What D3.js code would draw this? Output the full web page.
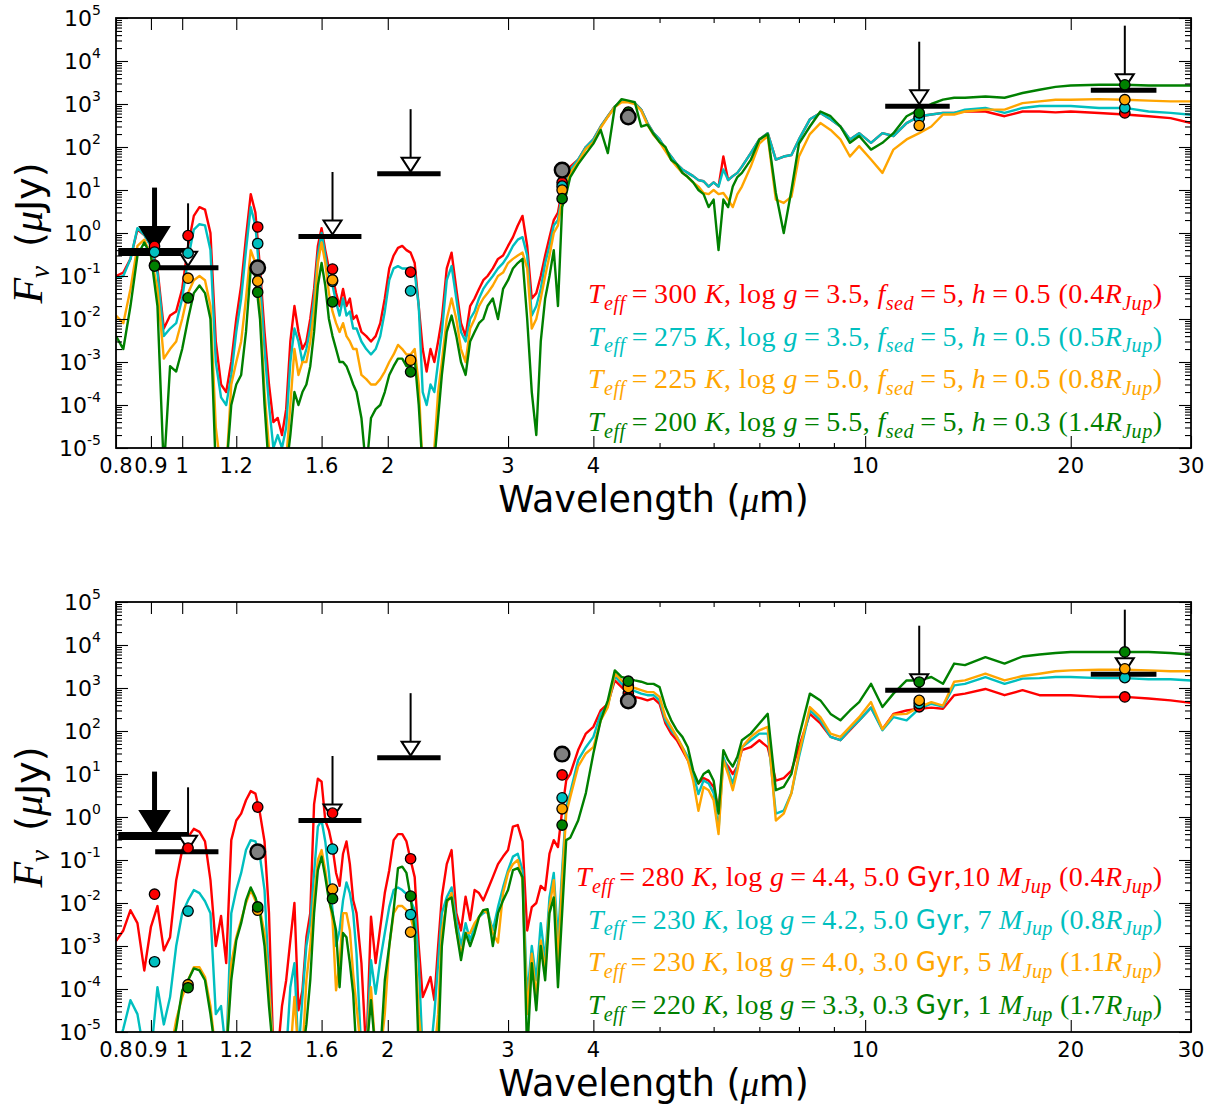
<!DOCTYPE html>
<html>
<head>
<meta charset="utf-8">
<script src="https://cdn.jsdelivr.net/npm/d3@7"></script>
<style>
  body { margin: 0; background: #fff; }
</style>
</head>
<body>
<svg id="fig" width="1223" height="1109"></svg>
<script>
// ------------------------------------------------------------------
// Data (flux in microJy, wavelength in micron)
// ------------------------------------------------------------------
var wave = [0.80,0.82,0.84,0.86,0.88,0.90,0.92,0.94,0.96,0.98,
  1.00,1.02,1.04,1.06,1.08,1.10,1.12,1.14,1.16,1.18,
  1.20,1.22,1.24,1.26,1.28,1.30,1.32,1.34,1.36,1.38,
  1.40,1.42,1.44,1.46,1.48,1.50,1.52,1.54,1.56,1.58,
  1.60,1.62,1.64,1.66,1.68,1.70,1.72,1.74,1.76,1.78,
  1.80,1.83,1.86,1.89,1.92,1.95,1.98,2.01,2.04,2.07,
  2.10,2.13,2.16,2.19,2.22,2.25,2.28,2.31,2.34,2.37,
  2.40,2.44,2.48,2.52,2.56,2.60,2.64,2.68,2.72,2.76,
  2.80,2.85,2.90,2.95,3.00,3.05,3.10,3.15,3.20,3.25,
  3.30,3.35,3.40,3.45,3.50,3.55,3.60,3.65,3.70,3.80,
  3.90,4.00,4.10,4.20,4.30,4.40,4.50,4.60,4.70,4.80,
  4.90,5.00,5.10,5.20,5.30,5.40,5.50,5.60,5.70,5.80,
  5.90,6.00,6.10,6.20,6.30,6.40,6.50,6.60,6.80,7.00,
  7.20,7.40,7.60,7.80,8.00,8.30,8.60,8.90,9.20,9.50,
  9.80,10.2,10.6,11.0,11.5,12.0,12.5,13.0,13.5,14.0,
  15,16,17,18,19,20,22,24,26,28,
  30];

// top panel: cloudy models
var topRed = [0.1,0.12,0.25,1.2,0.9,0.5,0.15,0.006,0.012,0.015,
  0.05,0.5,2.5,4.0,3.5,1.0,0.003,3e-4,2e-4,1e-3,
  0.01,0.06,0.8,8,3,0.15,0.005,3e-4,4e-5,5e-5,
  2e-5,8e-5,0.003,0.02,0.005,0.002,0.003,0.01,0.05,0.5,
  1.3,0.4,0.15,0.1,0.04,0.02,0.05,0.02,0.03,0.01,
  0.012,0.005,0.004,0.003,0.004,0.008,0.03,0.15,0.3,0.45,
  0.5,0.4,0.35,0.2,0.02,0.002,6e-4,0.002,0.001,0.003,
  0.01,0.15,0.35,0.05,0.008,0.004,0.02,0.03,0.05,0.08,
  0.1,0.15,0.25,0.3,0.5,0.8,1.5,2.5,0.5,0.03,
  0.04,0.1,0.3,0.8,2,3,10,20,35,51,
  100,150,300,520,880,1150,1150,1050,740,360,
  210,150,90,60,40,30,25,21,17,16,
  12,15,12,60,17,21,25,35,72,150,
  210,51,60,65,150,440,620,440,300,150,
  210,125,210,180,360,520,570,620,620,670,
  670,520,670,670,640,670,620,570,520,470,
  360];
var topCyan = [0.09,0.1,0.25,1.3,0.9,0.5,0.12,0.004,0.006,0.008,
  0.03,0.25,1.2,1.6,1.5,0.4,0.001,1.5e-4,1e-4,5e-4,
  0.005,0.03,0.4,4,1.5,0.08,0.002,1e-4,1e-5,2e-5,
  1e-5,3e-5,0.001,0.006,0.003,0.001,0.002,0.006,0.03,0.3,
  1.0,0.3,0.08,0.06,0.025,0.012,0.03,0.012,0.015,0.006,
  0.006,0.003,0.002,0.0015,0.002,0.004,0.015,0.08,0.15,0.17,
  0.15,0.15,0.15,0.12,0.02,2e-4,1e-4,3e-4,2e-4,0.001,
  0.005,0.08,0.17,0.03,0.005,0.003,0.01,0.015,0.03,0.05,
  0.07,0.1,0.15,0.2,0.3,0.5,0.7,0.8,0.3,0.012,
  0.02,0.05,0.2,0.5,1.5,2,8,15,30,51,
  100,150,300,520,880,1150,1150,1050,740,360,
  210,150,90,60,40,30,25,21,17,16,
  12,15,12,30,17,21,25,35,72,150,
  210,51,60,65,150,440,620,440,300,150,
  210,125,210,180,360,520,570,620,620,740,
  810,620,810,900,900,900,810,810,670,620,
  560];
var topOrange = [0.012,0.008,0.05,0.5,0.7,0.3,0.05,0.0012,0.002,0.003,
  0.01,0.04,0.08,0.1,0.08,0.02,3e-5,3e-6,3e-6,3e-4,
  0.001,0.003,0.03,0.4,0.2,0.02,2e-4,1e-5,3e-6,3e-6,
  3e-6,5e-6,1e-4,0.002,5e-4,0.001,0.001,0.003,0.015,0.2,
  0.6,0.2,0.04,0.015,0.008,0.005,0.008,0.004,0.003,0.002,
  0.002,5e-4,4e-4,3e-4,3e-4,4e-4,6e-4,0.001,0.0015,0.0025,
  0.002,0.0015,0.0015,0.002,3e-4,3e-6,3e-6,5e-6,1e-5,2e-4,
  0.001,0.01,0.03,0.01,0.002,0.001,0.006,0.01,0.02,0.03,
  0.04,0.06,0.1,0.12,0.2,0.25,0.3,0.35,0.15,0.006,
  0.01,0.03,0.1,0.3,1,1.5,6,12,25,45,
  90,130,280,500,850,1100,1100,1000,700,330,
  190,130,80,50,35,25,20,15,12,8.5,
  8,10,8,8.5,6,4,8,12,35,120,
  180,6,5,7,60,200,360,250,150,60,
  105,51,25,87,150,210,300,570,570,670,
  740,740,1050,1150,1260,1260,1300,1260,1200,1150,
  1150];
var topGreen = [0.004,0.002,0.02,0.3,0.6,0.3,0.02,3e-6,8e-4,6e-4,
  0.002,0.01,0.04,0.06,0.04,0.01,3e-6,3e-6,3e-6,1e-4,
  3e-4,5e-4,0.005,0.15,0.1,0.01,1e-4,3e-6,3e-6,3e-6,
  3e-6,3e-6,2e-5,2e-4,1e-4,2e-4,3e-4,8e-4,0.005,0.06,
  0.2,0.06,0.01,0.004,0.002,0.001,0.001,8e-4,5e-4,3e-4,
  2e-4,5e-5,3e-6,5e-5,8e-5,1e-4,2e-4,5e-4,8e-4,0.0012,
  0.0012,8e-4,8e-4,0.0012,1e-4,3e-6,3e-6,3e-6,5e-6,5e-5,
  5e-4,0.005,0.012,0.004,0.001,5e-4,0.003,0.005,0.008,0.01,
  0.02,0.03,0.01,0.05,0.08,0.15,0.2,0.25,0.01,2e-4,
  2e-5,0.003,0.03,0.1,0.4,0.02,4,8,20,40,
  70,120,250,72,850,1300,1200,1100,300,330,
  200,130,100,50,40,25,20,15,10,8,
  4,6,0.4,6,4,12,20,25,50,150,
  200,8.5,1,10,120,300,670,520,300,125,
  180,87,125,210,520,740,1000,1260,1400,1400,
  1500,1400,1800,2150,2500,2700,2800,2800,2700,2700,
  2700];

// bottom panel: cloud-free evolutionary models
var botRed = [1.3e-3,2.3e-3,6.8e-3,3.4e-3,2.7e-4,2.8e-3,8.5e-3,7.9e-4,1.6e-3,0.034,
  0.17,0.34,0.53,0.45,0.27,0.034,1e-3,5e-3,4e-4,0.29,
  0.83,1.2,2.45,4.0,3.5,1.2,0.27,5.8e-3,3e-6,3e-6,
  4e-5,1.6e-4,1.35e-3,0.01,3.2e-5,9.3e-5,1.6e-3,5.8e-3,2.0,7.8,
  6.6,0.83,0.49,0.2,0.05,0.025,0.14,0.27,0.08,0.0115,
  5.8e-3,4e-4,3e-6,4.8e-3,4e-4,2.7e-3,0.017,0.058,0.29,0.4,
  0.4,0.27,0.1,0.04,1e-3,6.5e-5,1.1e-4,1.9e-4,5.5e-5,1e-3,
  0.014,0.08,0.17,5.8e-3,2.3e-3,0.014,4e-3,0.02,0.017,0.0115,
  0.02,0.04,0.08,0.12,0.17,0.6,0.65,0.27,2.3e-3,8e-3,
  0.01,0.025,0.02,0.14,0.29,0.2,1.4,7.1,10,36,
  87,125,300,430,1500,1050,740,620,575,515,
  575,430,150,87,61,36,21,10,6,8,
  7,5,1.4,21,15,10,15,36,42,61,
  42,7,8,12,42,250,150,73,61,104,
  177,350,110,250,300,330,350,330,680,740,
  950,680,890,680,680,680,620,620,570,515,
  450];
var botCyan = [3e-6,1.2e-5,5.5e-5,2.6e-5,3e-6,3e-6,1.1e-4,1.5e-5,6.5e-5,1e-3,
  5.8e-3,0.0115,0.02,0.017,0.011,5.8e-3,2.6e-5,4e-5,3e-6,5.8e-3,
  0.02,0.05,0.17,0.29,0.27,0.12,0.02,1.6e-4,3e-6,3e-6,
  3e-6,3e-6,1.1e-4,4e-4,3e-6,6.5e-5,1e-3,3.4e-3,0.05,0.6,
  0.83,0.27,0.05,6.8e-3,1e-3,2.3e-3,0.0115,0.03,0.017,5.8e-3,
  6.6e-4,3e-6,3e-6,4.7e-4,7.7e-5,4.7e-4,2e-3,8e-3,0.02,0.023,
  0.02,0.016,0.0115,6.8e-3,4e-4,3e-6,3e-6,3e-6,2.6e-5,4e-4,
  5.8e-3,0.0135,0.023,4e-3,1e-3,3.4e-3,1.35e-3,2.8e-3,4.7e-3,5.8e-3,
  6.8e-3,2.3e-3,8e-3,0.023,0.058,0.12,0.14,0.058,6.5e-5,1e-3,
  1.6e-4,3.4e-3,4.7e-4,0.0135,0.05,1.35e-3,0.058,1.7,3.7,21,
  42,73,250,390,1900,1250,1000,850,740,680,
  680,515,177,104,73,42,25,10,3.4,7.1,
  6,3.6,0.49,25,12,6,15,42,61,87,
  87,1.2,1.4,3.6,25,300,177,73,61,110,
  177,350,104,210,177,330,430,370,1150,1250,
  1800,1250,1650,1700,1800,1800,1700,1700,1600,1600,
  1500];
var botOrange = [3e-6,3e-6,3e-6,3e-6,3e-6,3e-6,3e-6,3e-6,3e-6,1.9e-5,
  6.5e-5,1.6e-4,3.2e-4,3.2e-4,1.9e-4,4e-5,3e-6,3e-6,3e-6,4e-4,
  1.6e-3,4e-3,0.01,0.02,0.0115,6.8e-3,2e-3,9.3e-5,3e-6,3e-6,
  3e-6,3e-6,3e-6,6.5e-5,3e-6,3e-6,1.6e-4,1e-3,0.0135,0.1,
  0.17,0.058,0.0135,4e-3,9.3e-5,4e-4,5.8e-3,5.8e-3,2.3e-3,2.2e-4,
  4e-5,3e-6,3e-6,1.1e-4,3e-6,3e-6,2.6e-5,1e-3,5.8e-3,8.5e-3,
  8.5e-3,6.8e-3,4.7e-3,2e-3,2.6e-5,3e-6,3e-6,3e-6,3e-6,2.6e-5,
  2.3e-3,0.01,0.017,2.3e-3,6.6e-4,2e-3,2e-3,3.4e-3,4.7e-3,6.8e-3,
  5.8e-3,2e-3,1.2e-3,0.017,0.05,0.08,0.1,0.034,2.6e-5,6.6e-4,
  6.5e-5,1.35e-3,2.7e-4,8e-3,0.034,4e-4,0.034,1.2,2.9,15,
  30,42,177,360,2150,1500,1150,1000,890,800,
  800,620,210,125,73,42,21,7,1.4,5,
  4.2,2.45,0.4,21,10,4.2,12,42,73,104,
  125,0.83,1.2,3.6,30,360,210,87,73,125,
  210,470,110,240,250,360,470,390,1400,1500,
  2150,1500,1900,2150,2450,2570,2650,2650,2570,2450,
  2450];
var botGreen = [3e-6,3e-6,3e-6,3e-6,3e-6,3e-6,3e-6,3e-6,3e-6,1.2e-5,
  9.3e-5,1.6e-4,3e-4,2.7e-4,1.6e-4,2.6e-5,3e-6,3e-6,3e-6,1.6e-4,
  1.35e-3,3.4e-3,0.0115,0.023,0.0135,5.8e-3,1e-3,4e-5,3e-6,3e-6,
  3e-6,3e-6,3e-6,3e-6,3e-6,3e-6,1.5e-5,1.6e-4,5.8e-3,0.058,
  0.12,0.04,0.0115,5.8e-3,2.3e-3,1.1e-4,2e-3,1.6e-3,4e-4,7.7e-5,
  3e-6,3e-6,3e-6,5.5e-5,3e-6,3e-6,1.6e-4,1e-3,6.8e-3,0.065,
  0.07,0.05,0.0135,2.3e-3,3e-6,3e-6,3e-6,3e-6,3e-6,3e-6,
  1e-3,0.0115,0.0135,2.3e-3,4.7e-4,2e-3,1e-3,2e-3,4.7e-3,6.8e-3,
  7.2e-3,1e-3,5.8e-3,0.0115,0.02,0.058,0.065,0.04,3e-6,4e-4,
  3.2e-5,1e-3,1.6e-4,5.8e-3,0.0135,1.1e-4,5.8e-3,0.29,0.33,0.83,
  3.6,30,177,515,2570,1800,1650,1500,1400,1250,
  1250,1050,360,177,104,73,42,12,6,10,
  12,7,1.2,36,21,15,25,61,87,150,
  250,4.2,5,10,73,740,515,250,177,300,
  470,1250,360,740,1500,1500,1800,1250,3700,3400,
  5200,3700,5400,6000,6500,6900,6900,6900,6900,6500,
  6000];

// synthetic photometry of the models in the observed bands
var photBand = [0.911, 1.02, 1.29, 1.66, 2.16, 3.6, 4.5, 12, 24];
var topPhotRed    = [0.49, 0.87, 1.38, 0.145, 0.123, 15, 620, 500, 620];
var topPhotCyan   = [0.36, 0.34, 0.57, 0.075, 0.045, 12.3, 620, 470, 810];
var topPhotOrange = [0.18, 0.089, 0.076, 0.081, 0.0011, 10, 600, 316, 1260];
var topPhotGreen  = [0.17, 0.031, 0.042, 0.025, 5.9e-4, 6.3, 650, 620, 2800];
var botPhotRed    = [0.016, 0.19, 1.7, 1.23, 0.107, 9.5, 760, 365, 620];
var botPhotCyan   = [4.3e-4, 0.0065, 0.16, 0.18, 0.0054, 2.8, 1150, 435, 1740];
var botPhotOrange = [null, 1.26e-4, 0.0068, 0.021, 0.0021, 1.55, 1020, 515, 2800];
var botPhotGreen  = [null, 1.07e-4, 0.0081, 0.0126, 0.0145, 0.65, 1440, 1380, 6900];

// measured fluxes
var obsWave = [1.29, 3.6, 4.5];
var obsFlux = [0.155, 29, 500];

// upper limits (value, band edges)
var ulWave = [0.911, 1.02, 1.66, 2.16, 12, 24];
var ulFlux = [0.36, 0.155, 0.83, 24, 890, 2100];
var ulLo   = [0.806, 0.913, 1.48, 1.93, 10.7, 21.4];
var ulHi   = [1.02, 1.13, 1.83, 2.39, 13.3, 26.7];
var ulBold = [true, false, false, false, false, false];

var xTicks = [0.8, 0.9, 1, 1.2, 1.6, 2, 3, 4, 10, 20, 30];
var xTickLabels = ['0.8', '0.9', '1', '1.2', '1.6', '2', '3', '4', '10', '20', '30'];
var xMinor = [5, 6, 7, 8, 9];
var yExp = [-5, -4, -3, -2, -1, 0, 1, 2, 3, 4, 5];

var topLegend = [
  'T_{eff}=300 K, log g=3.5, f_{sed}=5, h=0.5 (0.4R_{Jup})',
  'T_{eff}=275 K, log g=3.5, f_{sed}=5, h=0.5 (0.5R_{Jup})',
  'T_{eff}=225 K, log g=5.0, f_{sed}=5, h=0.5 (0.8R_{Jup})',
  'T_{eff}=200 K, log g=5.5, f_{sed}=5, h=0.3 (1.4R_{Jup})'];
var botLegend = [
  'T_{eff}=280 K, log g=4.4, 5.0 Gyr,10 M_{Jup} (0.4R_{Jup})',
  'T_{eff}=230 K, log g=4.2, 5.0 Gyr, 7 M_{Jup} (0.8R_{Jup})',
  'T_{eff}=230 K, log g=4.0, 3.0 Gyr, 5 M_{Jup} (1.1R_{Jup})',
  'T_{eff}=220 K, log g=3.3, 0.3 Gyr, 1 M_{Jup} (1.7R_{Jup})'];

var colors = ['#ff0000', '#00bfbf', '#ffa500', '#008000'];

// ------------------------------------------------------------------
// Drawing
// ------------------------------------------------------------------
var SANS = 'DejaVu Sans, sans-serif';
var SERIF = 'Liberation Serif, serif';
var svg = d3.select('#fig');
var left = 116, right = 1191;
var x = d3.scaleLog().domain([0.8, 30]).range([left, right]);

// mini mathtext: _{..} subscript, single letters italic, 'log' roman, 'Gyr' sans
function addMath(text, str, size) {
  var re = /_\{([^}]*)\}|(Gyr)|(log)|([A-Za-z])|([^A-Za-z_]+)/g, m, down = false;
  while ((m = re.exec(str))) {
    var t = text.append('tspan');
    if (m[1] !== undefined) {
      t.text(m[1]).attr('font-style', 'italic').attr('font-size', size * 0.72)
        .attr('dy', size * 0.24);
      down = true;
      continue;
    }
    if (down) { t.attr('dy', -size * 0.24); down = false; }
    if (m[2]) t.text(m[2]).attr('font-family', SANS).attr('font-size', size * 0.93);
    else if (m[3]) t.text(m[3]);
    else if (m[4]) t.text(m[4]).attr('font-style', 'italic');
    else t.text(m[5].replace(/=/g, '\u2009=\u2009'));
  }
}

function drawPanel(p) {
  var y = d3.scaleLog().domain([1e-5, 1e5]).range([p.bottom, p.top]);
  var g = svg.append('g');

  svg.append('clipPath').attr('id', 'clip' + p.id)
    .append('rect').attr('x', left).attr('y', p.top)
    .attr('width', right - left).attr('height', p.bottom - p.top);
  var plot = g.append('g').attr('clip-path', 'url(#clip' + p.id + ')');

  var line = d3.line().x(function(d, i) { return x(wave[i]); }).y(function(d) { return y(d); });
  p.spectra.forEach(function(s, k) {
    plot.append('path').attr('d', line(s))
      .attr('fill', 'none').attr('stroke', colors[k])
      .attr('stroke-width', 2.4).attr('stroke-linejoin', 'round');
  });

  // legend, right aligned at 1162
  p.legend.forEach(function(str, k) {
    var w = p.legendW[k];
    var t = g.append('text').attr('x', 1162 - w).attr('y', p.legendY + k * 42.7)
      .attr('font-family', SERIF).attr('font-size', 28)
      .attr('textLength', w).attr('lengthAdjust', 'spacing')
      .attr('fill', colors[k]);
    addMath(t, str, 28);
  });

  // upper limits
  ulWave.forEach(function(w, i) {
    var yv = y(ulFlux[i]), cx = x(w), bold = ulBold[i];
    var th = bold ? 23 : 14, tw = bold ? 29 : 18;
    g.append('line').attr('x1', x(ulLo[i])).attr('x2', x(ulHi[i]))
      .attr('y1', yv).attr('y2', yv)
      .attr('stroke', '#000').attr('stroke-width', bold ? 8 : 5);
    g.append('line').attr('x1', cx).attr('x2', cx)
      .attr('y1', y(ulFlux[i] * 31.6)).attr('y2', yv - th)
      .attr('stroke', '#000').attr('stroke-width', bold ? 5 : 2);
    g.append('path')
      .attr('d', 'M' + (cx - tw / 2) + ',' + (yv - 2 - th) + 'L' + (cx + tw / 2) + ',' + (yv - 2 - th) +
        'L' + cx + ',' + (yv - 2) + 'Z')
      .attr('fill', bold ? '#000' : '#fff').attr('stroke', '#000')
      .attr('stroke-width', 2).attr('stroke-linejoin', 'miter');
  });

  // model photometry
  p.phot.forEach(function(arr, k) {
    arr.forEach(function(v, i) {
      if (v == null) return;
      g.append('circle').attr('cx', x(photBand[i])).attr('cy', y(v)).attr('r', 5.2)
        .attr('fill', colors[k]).attr('stroke', '#000').attr('stroke-width', 1.3);
    });
  });

  // measured points
  obsWave.forEach(function(w, i) {
    g.append('circle').attr('cx', x(w)).attr('cy', y(obsFlux[i])).attr('r', 7.3)
      .attr('fill', '#808080').attr('stroke', '#000').attr('stroke-width', 2.4);
  });

  // ticks (inward, all four sides)
  var majY = yExp.map(function(e) { return Math.pow(10, e); });
  var minY = [];
  yExp.slice(0, -1).forEach(function(e) {
    for (var m = 2; m < 10; m++) minY.push(m * Math.pow(10, e));
  });
  function tickGroup(axis, tx, ty) {
    var a = g.append('g').attr('transform', 'translate(' + tx + ',' + ty + ')').call(axis);
    a.select('.domain').remove();
    a.selectAll('line').attr('stroke-width', 1.1);
  }
  tickGroup(d3.axisLeft(y).tickValues(majY).tickSize(-12).tickFormat(''), left, 0);
  tickGroup(d3.axisLeft(y).tickValues(minY).tickSize(-6).tickFormat(''), left, 0);
  tickGroup(d3.axisRight(y).tickValues(majY).tickSize(-12).tickFormat(''), right, 0);
  tickGroup(d3.axisRight(y).tickValues(minY).tickSize(-6).tickFormat(''), right, 0);
  tickGroup(d3.axisBottom(x).tickValues(xTicks).tickSize(-12).tickFormat(''), 0, p.bottom);
  tickGroup(d3.axisBottom(x).tickValues(xMinor).tickSize(-5).tickFormat(''), 0, p.bottom);
  tickGroup(d3.axisTop(x).tickValues(xTicks).tickSize(-12).tickFormat(''), 0, p.top);
  tickGroup(d3.axisTop(x).tickValues(xMinor).tickSize(-5).tickFormat(''), 0, p.top);

  g.append('rect').attr('x', left).attr('y', p.top)
    .attr('width', right - left).attr('height', p.bottom - p.top)
    .attr('fill', 'none').attr('stroke', '#000').attr('stroke-width', 1.8);

  // tick labels
  yExp.forEach(function(e) {
    var t = g.append('text').attr('x', 101).attr('y', y(Math.pow(10, e)) + 8)
      .attr('text-anchor', 'end').attr('font-family', SANS).attr('font-size', 22);
    t.append('tspan').text('10');
    t.append('tspan').text(e).attr('font-size', 14).attr('dy', -11);
  });
  xTicks.forEach(function(v, i) {
    g.append('text').attr('x', x(v)).attr('y', p.bottom + 25)
      .attr('text-anchor', 'middle').attr('font-family', SANS).attr('font-size', 21)
      .text(xTickLabels[i]);
  });

  // axis titles
  var xl = g.append('text').attr('x', (left + right) / 2).attr('y', p.bottom + 64)
    .attr('text-anchor', 'middle').attr('font-family', SANS).attr('font-size', 36.5);
  xl.append('tspan').text('Wavelength (');
  xl.append('tspan').text('\u03bc').attr('font-family', SERIF).attr('font-style', 'italic');
  xl.append('tspan').text('m)');

  var yl = g.append('text')
    .attr('transform', 'translate(42,' + (p.top + p.bottom) / 2 + ') rotate(-90)')
    .attr('text-anchor', 'middle').attr('font-family', SANS).attr('font-size', 38);
  yl.append('tspan').text('F').attr('font-family', SERIF).attr('font-style', 'italic')
    .attr('font-size', 42);
  yl.append('tspan').text('\u03bd').attr('font-family', SERIF).attr('font-style', 'italic')
    .attr('font-size', 27).attr('dy', 7);
  yl.append('tspan').text('\u2002(').attr('dy', -7);
  yl.append('tspan').text('\u03bc').attr('font-family', SERIF).attr('font-style', 'italic')
    .attr('font-size', 42);
  yl.append('tspan').text('Jy)');
}

drawPanel({
  id: 'top', top: 18, bottom: 448, legendY: 303, legendW: [574, 574, 574, 574],
  spectra: [topRed, topCyan, topOrange, topGreen],
  phot: [topPhotRed, topPhotCyan, topPhotOrange, topPhotGreen],
  legend: topLegend
});
drawPanel({
  id: 'bot', top: 602, bottom: 1032, legendY: 886, legendW: [586, 574, 574, 574],
  spectra: [botRed, botCyan, botOrange, botGreen],
  phot: [botPhotRed, botPhotCyan, botPhotOrange, botPhotGreen],
  legend: botLegend
});
</script>
</body>
</html>
